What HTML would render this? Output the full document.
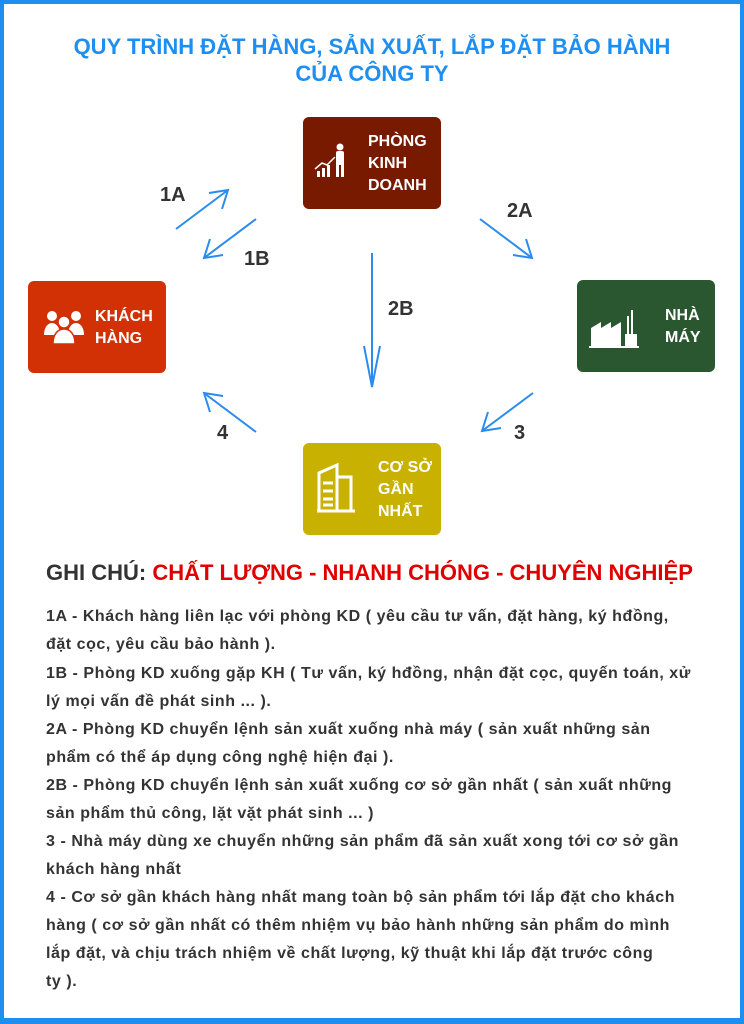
<!DOCTYPE html>
<html><head><meta charset="utf-8"><style>
*{margin:0;padding:0;box-sizing:border-box}
body{width:744px;height:1024px;background:#fff;position:relative;overflow:hidden;font-family:"Liberation Sans",sans-serif}
.frame{position:absolute;left:0;top:0;width:744px;height:1024px;border:4px solid #1e8ff0;border-bottom-width:6px}
.title{position:absolute;left:0;width:744px;text-align:center;color:#1e8ff0;font-weight:bold;font-size:22px}
.box{position:absolute;width:138px;height:92px;border-radius:6px;color:#fff;font-weight:bold;font-size:16px;line-height:22px}
.box .t{position:absolute;white-space:nowrap}
.lbl{position:absolute;color:#333;font-weight:bold;font-size:20px}
.ln{position:absolute;left:46px;white-space:nowrap;color:#333;font-weight:bold;font-size:16px;letter-spacing:0.55px}
</style></head><body>
<div class="frame"></div>
<div class="title" style="top:34px">QUY TRÌNH ĐẶT HÀNG, SẢN XUẤT, LẮP ĐẶT BẢO HÀNH</div>
<div class="title" style="top:61px">CỦA CÔNG TY</div>

<div class="box" style="left:303px;top:117px;background:#771a00">
<svg style="position:absolute;left:10px;top:26px" width="40" height="40" viewBox="0 0 40 40" fill="#fff"><circle cx="27" cy="4" r="3.5"/><rect x="23" y="8" width="8" height="14" rx="2"/><rect x="23" y="20" width="3" height="14"/><rect x="28" y="20" width="3" height="14"/><rect x="4" y="28" width="3" height="6"/><rect x="9" y="25" width="3" height="9"/><rect x="14" y="22" width="3" height="12"/><polyline points="2,26 9,20 14,22 22,14" stroke="#fff" stroke-width="1.5" fill="none"/></svg>
<div class="t" style="left:65px;top:14px">PHÒNG<br>KINH<br>DOANH</div></div>

<div class="box" style="left:28px;top:281px;background:#d23005">
<svg style="position:absolute;left:15px;top:28px" width="42" height="36" viewBox="0 0 42 36" fill="#fff"><circle cx="9" cy="7" r="5"/><circle cx="33" cy="7" r="5"/><path d="M1 26c0-8 4-12 8-12s8 4 8 12z"/><path d="M25 26c0-8 4-12 8-12s8 4 8 12z"/><circle cx="21" cy="13" r="6" stroke="#d23005" stroke-width="1.5"/><path d="M10 35c0-10 5-15 11-15s11 5 11 15z" stroke="#d23005" stroke-width="1.5"/></svg>
<div class="t" style="left:67px;top:25px">KHÁCH<br>HÀNG</div></div>

<div class="box" style="left:577px;top:280px;background:#2a5630">
<svg style="position:absolute;left:12px;top:26px" width="52" height="42" viewBox="0 0 52 42" fill="#fff"><path d="M2 40V22l10-6v6l10-6v6l10-6V40z"/><rect x="38" y="10" width="2" height="22"/><rect x="42" y="4" width="2" height="28"/><rect x="36" y="28" width="12" height="12"/><rect x="0" y="40" width="50" height="2"/></svg>
<div class="t" style="left:88px;top:25px">NHÀ<br>MÁY</div></div>

<div class="box" style="left:303px;top:443px;background:#c8b100">
<svg style="position:absolute;left:12px;top:20px" width="42" height="50" viewBox="0 0 42 50" fill="none" stroke="#fff" stroke-width="3"><path d="M4 48V10L22 2V48"/><path d="M22 14h14v34"/><path d="M2 48h38"/><path d="M8 20h10M8 28h10M8 36h10M8 42h10"/></svg>
<div class="t" style="left:75px;top:14px">CƠ SỞ<br>GẦN<br>NHẤT</div></div>

<svg style="position:absolute;left:0;top:0" width="744" height="1024" fill="none" stroke="#2b8cf0" stroke-width="2">
<line x1="176" y1="229" x2="228" y2="190"/><polyline points="209,193 228,190 222,209"/>
<line x1="256" y1="219" x2="204" y2="258"/><polyline points="210,239 204,258 223,255"/>
<line x1="480" y1="219" x2="532" y2="258"/><polyline points="513,255 532,258 526,239"/>
<line x1="372" y1="253" x2="372" y2="387"/><polyline points="364,346 372,387 380,346"/>
<line x1="533" y1="393" x2="482" y2="431"/><polyline points="488,412 482,431 501,428"/>
<line x1="256" y1="432" x2="204" y2="393"/><polyline points="223,396 204,393 210,412"/>
</svg>
<div class="lbl" style="left:160px;top:184px">1A</div>
<div class="lbl" style="left:244px;top:248px">1B</div>
<div class="lbl" style="left:507px;top:200px">2A</div>
<div class="lbl" style="left:388px;top:298px">2B</div>
<div class="lbl" style="left:514px;top:422px">3</div>
<div class="lbl" style="left:217px;top:422px">4</div>

<div style="position:absolute;left:46px;top:560px;font-weight:bold;font-size:22px;color:#333;white-space:nowrap">GHI CHÚ: <span style="color:#e00000">CHẤT LƯỢNG - NHANH CHÓNG - CHUYÊN NGHIỆP</span></div>

<div class="ln" style="top:608px">1A - Khách hàng liên lạc với phòng KD ( yêu cầu tư vấn, đặt hàng, ký hđồng,</div>
<div class="ln" style="top:636px">đặt cọc, yêu cầu bảo hành ).</div>
<div class="ln" style="top:665px">1B - Phòng KD xuống gặp KH ( Tư vấn, ký hđồng, nhận đặt cọc, quyến toán, xử</div>
<div class="ln" style="top:693px">lý mọi vấn đề phát sinh ... ).</div>
<div class="ln" style="top:721px">2A - Phòng KD chuyển lệnh sản xuất xuống nhà máy ( sản xuất những sản</div>
<div class="ln" style="top:749px">phẩm có thể áp dụng công nghệ hiện đại ).</div>
<div class="ln" style="top:777px">2B - Phòng KD chuyển lệnh sản xuất xuống cơ sở gần nhất ( sản xuất những</div>
<div class="ln" style="top:805px">sản phẩm thủ công, lặt vặt phát sinh ... )</div>
<div class="ln" style="top:833px">3 - Nhà máy dùng xe chuyển những sản phẩm đã sản xuất xong tới cơ sở gần</div>
<div class="ln" style="top:861px">khách hàng nhất</div>
<div class="ln" style="top:889px">4 - Cơ sở gần khách hàng nhất mang toàn bộ sản phẩm tới lắp đặt cho khách</div>
<div class="ln" style="top:917px">hàng ( cơ sở gần nhất có thêm nhiệm vụ bảo hành những sản phẩm do mình</div>
<div class="ln" style="top:945px">lắp đặt, và chịu trách nhiệm về chất lượng, kỹ thuật khi lắp đặt trước công</div>
<div class="ln" style="top:973px">ty ).</div>
</body></html>
